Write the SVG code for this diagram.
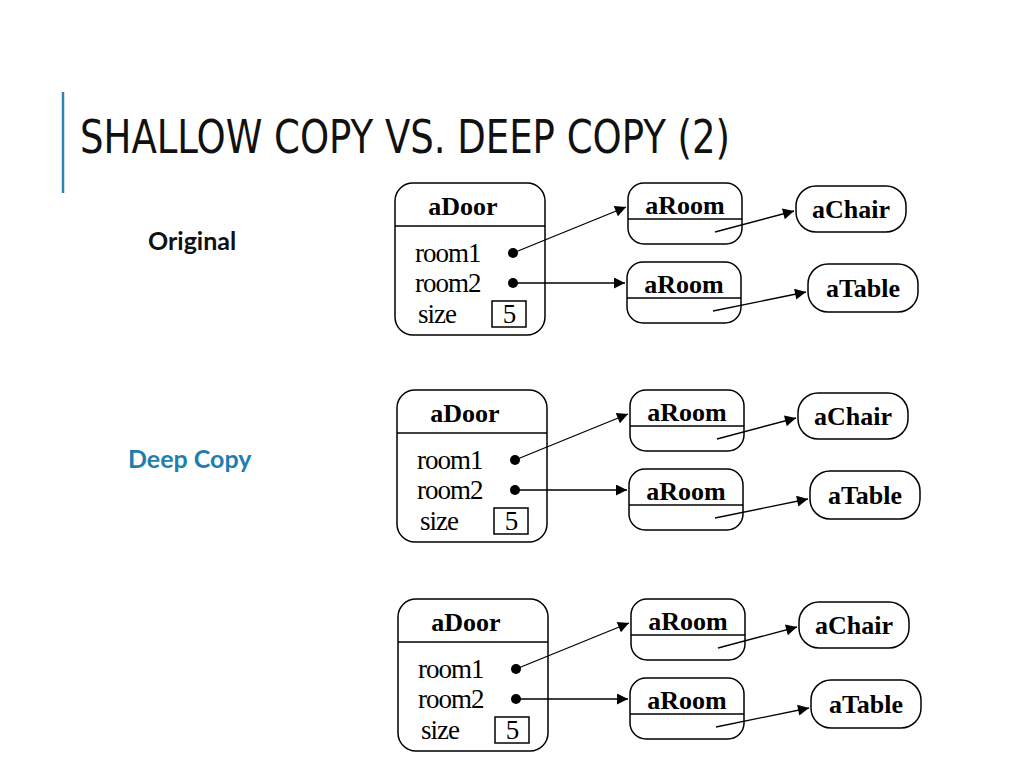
<svg xmlns="http://www.w3.org/2000/svg" width="1024" height="768" viewBox="0 0 1024 768">
<style>
.b{fill:#fff;stroke:#000;stroke-width:1.5}
.l{stroke:#000;stroke-width:1.3;fill:none}
.s{font-family:"Liberation Serif",serif;font-size:27px;fill:#000;letter-spacing:-1px}
.sb{font-family:"Liberation Serif",serif;font-size:26px;font-weight:bold;fill:#000}
</style>
<defs>
<marker id="a" viewBox="0 0 10 10" refX="10" refY="5" markerWidth="24" markerHeight="11" markerUnits="userSpaceOnUse" orient="auto"><path d="M0,0L10,5L0,10z"/></marker>
<g id="d">
<g id="door"><rect class="b" x="395" y="183" width="150" height="152" rx="18"/><line class="l" x1="395" y1="226" x2="545" y2="226"/>
<text class="sb" x="463" y="215" text-anchor="middle">aDoor</text>
<text class="s" x="415" y="262">room1</text><text class="s" x="415" y="292">room2</text><text class="s" x="418" y="323">size</text>
<rect class="b" x="492" y="301" width="34" height="26" stroke-width="1.2"/><text class="s" x="509" y="323" text-anchor="middle">5</text>
<circle cx="513" cy="253" r="5"/><circle cx="513" cy="283" r="5"/></g>
<g id="room1"><rect class="b" x="628" y="183" width="114" height="61" rx="16"/><line class="l" x1="628" y1="219" x2="742" y2="219"/><text class="sb" x="685" y="214" text-anchor="middle">aRoom</text></g>
<g id="room2"><rect class="b" x="627" y="262" width="114" height="61" rx="16"/><line class="l" x1="627" y1="298" x2="741" y2="298"/><text class="sb" x="684" y="293" text-anchor="middle">aRoom</text></g>
<g id="chair"><rect class="b" x="796" y="186" width="110" height="46" rx="20"/><text class="sb" x="851" y="218" text-anchor="middle">aChair</text></g>
<g id="table"><rect class="b" x="808" y="264" width="110" height="48" rx="20"/><text class="sb" x="863" y="297" text-anchor="middle">aTable</text></g>
<g id="conn"><line class="l" x1="513" y1="253" x2="626" y2="207" marker-end="url(#a)"/><line class="l" x1="513" y1="283" x2="625" y2="283" marker-end="url(#a)"/>
<line class="l" x1="715" y1="232" x2="794" y2="211" marker-end="url(#a)"/><line class="l" x1="713" y1="311" x2="806" y2="292" marker-end="url(#a)"/></g>
</g>
</defs>
<rect width="1024" height="768" fill="#fff"/>
<line x1="63" y1="92" x2="63" y2="193" stroke="#2e86b0" stroke-width="2.5"/>
<text x="80" y="153" font-family="'DejaVu Sans Condensed','DejaVu Sans',sans-serif" font-stretch="condensed" font-size="46" textLength="650" lengthAdjust="spacingAndGlyphs" fill="#111">SHALLOW COPY VS. DEEP COPY (2)</text>
<text x="148" y="250" font-family="Lato,'Open Sans',sans-serif" font-weight="bold" font-size="25" fill="#111">Original</text>
<text x="128" y="468" font-family="Lato,'Open Sans',sans-serif" font-weight="bold" font-size="25" fill="#1f7eae">Deep Copy</text>
<g id="original"><use href="#d"/></g>
<g id="deep" transform="translate(2,207)"><use href="#d"/></g>
<g id="third" transform="translate(3,416)"><use href="#d"/></g>
</svg>
